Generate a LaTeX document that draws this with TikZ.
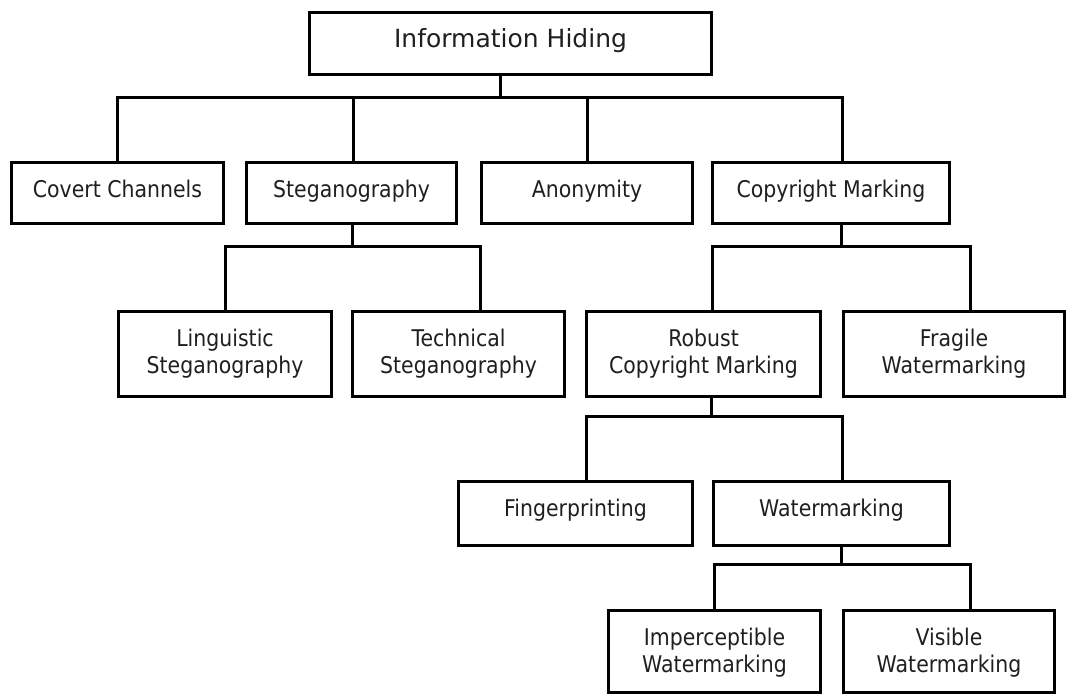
\documentclass[tikz,border=0pt]{standalone}
\usepackage{fontspec}
\setmainfont{DejaVu Sans}[FakeStretch=0.89]
\newfontfamily\titlefont{DejaVu Sans}
% top-aligned label block: width, height, text (first baseline 35pt below the top)
\newcommand\boxlabel[3]{\parbox[c][#2][t]{#1}{\centering\baselineskip=27pt\rule{0pt}{35pt}#3\par}}
\tikzset{
  box/.style={draw=black, line width=3pt, inner sep=0pt, anchor=north west,
    text=black!88, font=\fontsize{23}{27}\selectfont},
  link/.style={draw=black, line width=3pt},
}
\begin{document}
\begin{tikzpicture}[x=1pt,y=-1pt]
\fill[white] (0,0) rectangle (1067,693);
\useasboundingbox (0,0) rectangle (1067,693);

% root
\node[box, font=\titlefont\fontsize{25}{29}\selectfont] (ih) at (308,11)
  {\boxlabel{402pt}{62pt}{Information Hiding}};

% first level
\node[box] (cc) at (10,161)  {\boxlabel{212pt}{61pt}{Covert Channels}};
\node[box] (st) at (245,161) {\boxlabel{210pt}{61pt}{Steganography}};
\node[box] (an) at (480,161) {\boxlabel{211pt}{61pt}{Anonymity}};
\node[box] (cm) at (711,161) {\boxlabel{237pt}{61pt}{Copyright Marking}};

% second level
\node[box] (li) at (117,310) {\boxlabel{213pt}{85pt}{Linguistic\\Steganography}};
\node[box] (te) at (351,310) {\boxlabel{212pt}{85pt}{Technical\\Steganography}};
\node[box] (ro) at (585,310) {\boxlabel{234pt}{85pt}{Robust\\Copyright Marking}};
\node[box] (fr) at (842,310) {\boxlabel{221pt}{85pt}{Fragile\\Watermarking}};

% third level
\node[box] (fi) at (457,480) {\boxlabel{234pt}{64pt}{Fingerprinting}};
\node[box] (wa) at (712,480) {\boxlabel{236pt}{64pt}{Watermarking}};

% fourth level
\node[box] (im) at (607,609) {\boxlabel{212pt}{82pt}{Imperceptible\\Watermarking}};
\node[box] (vi) at (842,609) {\boxlabel{211pt}{82pt}{Visible\\Watermarking}};

% junction points of the buses
\coordinate (j0) at (500,97);
\coordinate (j1) at (352,246);
\coordinate (j2) at (841,246);
\coordinate (j3) at (711,416);
\coordinate (j4) at (841,564);

% root to first level
\draw[link] (ih.south -| j0) -- (j0) -| (cc.north);
\draw[link] (j0) -| ([xshift=2pt]st.north);
\draw[link] (j0) -| (an.north);
\draw[link] (j0) -| ([xshift=11.5pt]cm.north);

% steganography branch
\draw[link] (st.south -| j1) -- (j1) -| (li.north);
\draw[link] (j1) -| ([xshift=22pt]te.north);

% copyright marking branch
\draw[link] (cm.south -| j2) -- (j2) -| ([xshift=9pt]ro.north);
\draw[link] (j2) -| ([xshift=16.5pt]fr.north);

% robust copyright marking branch
\draw[link] (ro.south -| j3) -- (j3) -| ([xshift=11pt]fi.north);
\draw[link] (j3) -| ([xshift=11pt]wa.north);

% watermarking branch
\draw[link] (wa.south -| j4) -- (j4) -| (im.north);
\draw[link] (j4) -| ([xshift=21.5pt]vi.north);
\end{tikzpicture}
\end{document}
